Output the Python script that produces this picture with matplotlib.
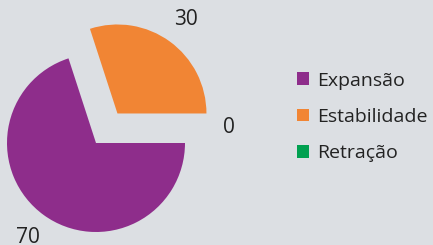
import matplotlib
matplotlib.use("Agg")
import matplotlib.pyplot as plt
from matplotlib.patches import Patch

categories = ["Expansão", "Estabilidade", "Retração"]
values = [70, 30, 0]
colors = ["#8E2D8B", "#F18534", "#00A050"]
explode = [0, 0.41, 0]
bg = "#DCDFE3"

W, H = 433, 245
fig = plt.figure(figsize=(W / 100, H / 100), dpi=100)
fig.patch.set_facecolor(bg)
ax = fig.add_axes([0, 0, 1, 1])
ax.set_facecolor(bg)

r_px = 89.0
cx, cy = 96.0, 143.0

wedges, texts = ax.pie(
    values, colors=colors, explode=explode, startangle=0, counterclock=False,
    labels=[str(v) for v in values], labeldistance=1.31,
    textprops=dict(fontsize=15, color="#222222", family="Open Sans"),
    wedgeprops=dict(linewidth=0), frame=True,
)
for t in texts:
    t.set_horizontalalignment("center")
    t.set_verticalalignment("center")
ax.set_xlim(-cx / r_px, (W - cx) / r_px)
ax.set_ylim(-(H - cy) / r_px, cy / r_px)
ax.set_aspect("auto")
ax.axis("off")
# nudge the zero label slightly outward
x0, y0 = texts[2].get_position()
texts[2].set_position((x0 + 0.18, y0 + 0.17))

handles = [Patch(facecolor=c, edgecolor="none") for c in colors]
leg = fig.legend(handles, categories, loc="center left",
                 bbox_to_anchor=(297 / W, 1 - 117 / H),
                 frameon=False, handlelength=0.62, handleheight=0.62,
                 handletextpad=0.4, labelspacing=0.95,
                 prop=dict(family="Open Sans", size=14), labelcolor="#222222",
                 borderaxespad=0, borderpad=0)

fig.savefig("out.png", dpi=100, facecolor=bg)
